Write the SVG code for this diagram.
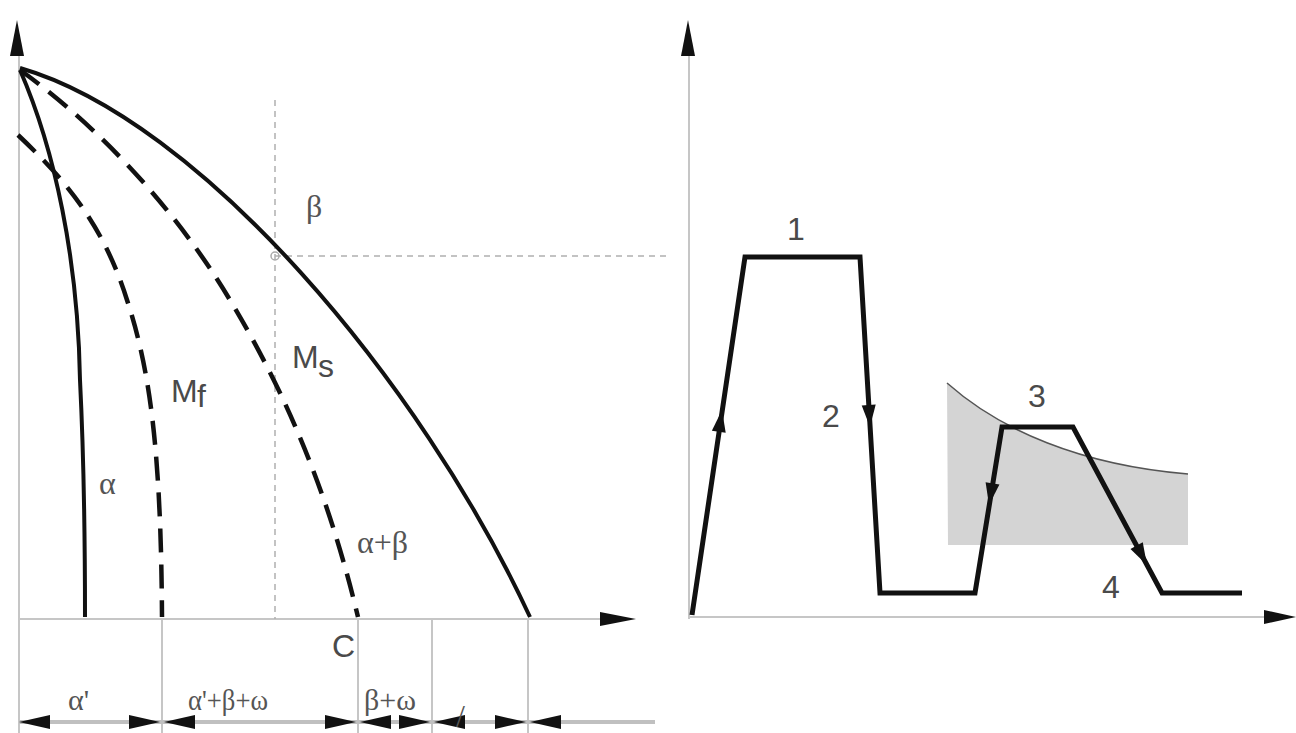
<svg xmlns="http://www.w3.org/2000/svg" width="1296" height="733" viewBox="0 0 1296 733">
<defs>
<style>
.ax{stroke:#c6c6c6;stroke-width:2;fill:none}
.dash{stroke:#b0b0b0;stroke-width:1.5;stroke-dasharray:6 5;fill:none}
.solid{stroke:#111;stroke-width:4;fill:none}
.dcurve{stroke:#111;stroke-width:4.5;fill:none;stroke-dasharray:24 12}
.path{stroke:#111;stroke-width:5;fill:none;stroke-linejoin:miter}
.lbl{fill:#555;font-family:"Liberation Serif",serif;font-size:32px}
.blbl{fill:#555;font-family:"Liberation Serif",serif;font-size:30px}
.sans{fill:#4a4a4a;font-family:"Liberation Sans",sans-serif;font-size:32px}
.ah{fill:#111}
</style>
<polygon id="arr" points="0,0 -22,-7 -22,7"/>
<polygon id="dim" points="0,0 -31,-7 -31,7"/>
</defs>

<g id="axes">
<line class="ax" x1="19" y1="50" x2="19" y2="733"/>
<line class="ax" x1="19" y1="619" x2="605" y2="619"/>
<polygon class="ah" points="17,20 10,56 24,56"/>
<polygon class="ah" points="636,619 600,612 600,626"/>
<line class="ax" x1="689" y1="50" x2="689" y2="619"/>
<line class="ax" x1="689" y1="617" x2="1270" y2="617"/>
<polygon class="ah" points="688,20 681,56 695,56"/>
<polygon class="ah" points="1296,617 1264,610 1264,624"/>
</g>

<g id="guides">
<line class="dash" x1="275" y1="100" x2="275" y2="619"/>
<line class="dash" x1="275" y1="256" x2="668" y2="256"/>
<circle cx="275" cy="256" r="4" fill="none" stroke="#aaa" stroke-width="1.5"/>
<line class="ax" x1="162" y1="619" x2="162" y2="733"/>
<line class="ax" x1="358" y1="619" x2="358" y2="733"/>
<line class="ax" x1="432" y1="619" x2="432" y2="733"/>
<line class="ax" x1="528" y1="619" x2="528" y2="733"/>
<line stroke="#c0c0c0" stroke-width="4" x1="19" y1="722" x2="655" y2="722"/>
</g>

<g id="dimension-arrows" class="ah">
<use href="#dim" transform="translate(19,722) rotate(180)"/>
<use href="#dim" transform="translate(160,722)"/>
<use href="#dim" transform="translate(164,722) rotate(180)"/>
<use href="#dim" transform="translate(356,722)"/>
<use href="#dim" transform="translate(360,722) rotate(180)"/>
<use href="#dim" transform="translate(430,722)"/>
<use href="#dim" transform="translate(434,722) rotate(180)"/>
<use href="#dim" transform="translate(526,722)"/>
<use href="#dim" transform="translate(530,722) rotate(180)"/>
</g>

<g id="curve-alpha">
<path class="solid" d="M20,70 C55,150 78,260 80,380 C83,440 85,520 85,617"/>
</g>
<g id="curve-mf">
<path class="dcurve" d="M18,135 C60,175 102,220 127,300 C150,370 161,450 162,617"/>
</g>
<g id="curve-ms">
<path class="dcurve" d="M20,70 C90,120 170,200 230,300 C290,400 330,500 358,617"/>
</g>
<g id="curve-beta">
<path class="solid" d="M20,68 C200,120 420,380 530,617"/>
</g>

<g id="labels-left">
<text class="lbl" x="306" y="217">β</text>
<text class="sans" x="292" y="368" font-size="30">M</text>
<text class="sans" x="318" y="377" font-size="14">s</text>
<text class="sans" x="171" y="402" font-size="30">M</text>
<text class="sans" x="197" y="407" font-size="14">f</text>
<text class="lbl" x="99" y="494" font-size="34">α</text>
<text class="lbl" x="357" y="553" font-size="34">α+β</text>
<text class="sans" x="332" y="657" font-size="30">C</text>
<text class="blbl" x="68" y="710">α'</text>
<text class="blbl" x="188" y="710" textLength="80" lengthAdjust="spacingAndGlyphs">α'+β+ω</text>
<text class="blbl" x="364" y="710">β+ω</text>
<text class="lbl" x="456" y="727" font-size="28" fill="#aaa">/</text>
</g>

<g id="shaded-zone">
<path d="M947,383 C1000,430 1080,465 1188,474 L1188,545 L948,545 Z" fill="#d4d4d4"/>
<path d="M947,383 C1000,430 1080,465 1188,474" fill="none" stroke="#555" stroke-width="1.5"/>
</g>

<g id="trajectory">
<polyline class="path" points="692,615 745,257 860,257 880,593 975,593 1002,427 1073,427 1162,593 1242,593"/>
<use class="ah" href="#arr" transform="translate(722,410) rotate(-81.6)"/>
<use class="ah" href="#arr" transform="translate(870,427) rotate(86.6)"/>
<use class="ah" href="#arr" transform="translate(989,505) rotate(99.2)"/>
<use class="ah" href="#arr" transform="translate(1147,565) rotate(61.8)"/>
</g>

<g id="labels-right">
<text class="sans" x="796" y="240" text-anchor="middle">1</text>
<text class="sans" x="831" y="427" text-anchor="middle">2</text>
<text class="sans" x="1037" y="407" text-anchor="middle">3</text>
<text class="sans" x="1111" y="598" text-anchor="middle">4</text>
</g>
</svg>
